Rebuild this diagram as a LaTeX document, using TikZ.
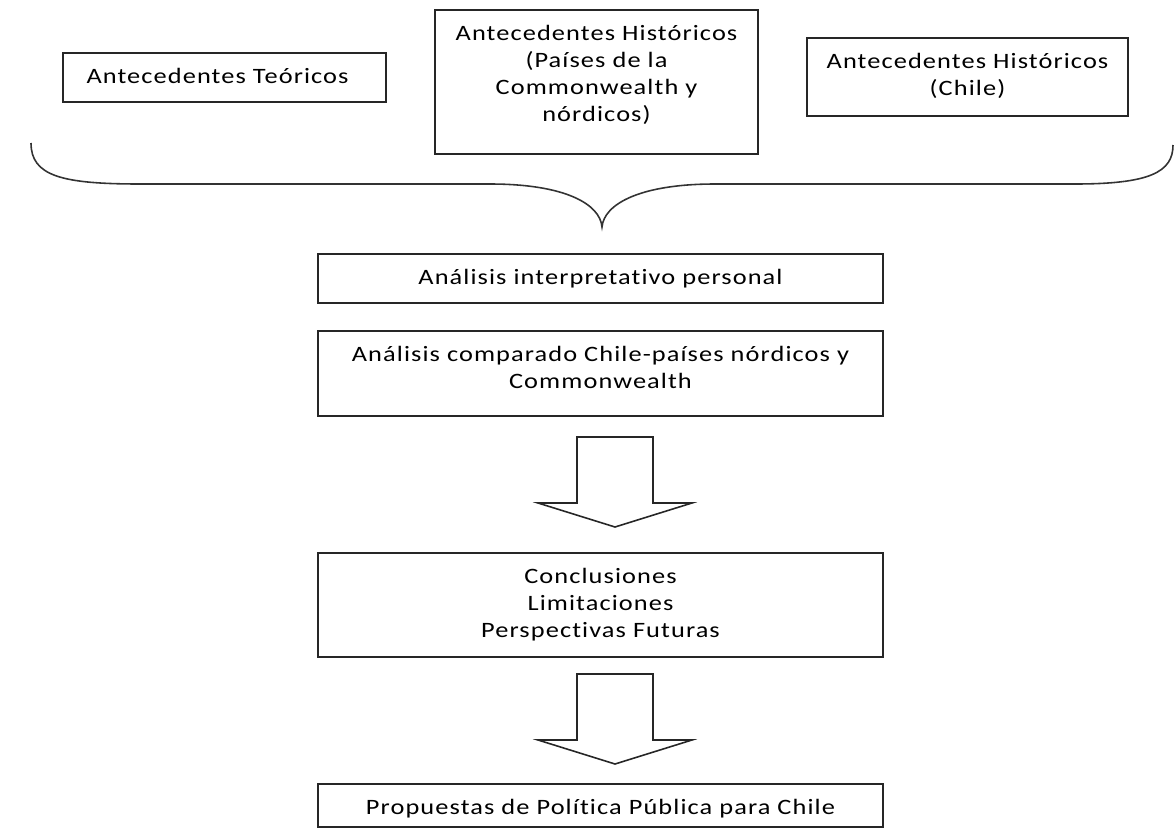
\documentclass[tikz,border=0pt]{standalone}
\usepackage{fontspec}
\setmainfont{Carlito}[FakeStretch=1.2, LetterSpace=5, Ligatures=NoCommon]

% text of a box, set from the top
\newcommand{\boxtext}[3]{\parbox[c][#2][t]{#1}{\centering\rule{0pt}{0.6cm}#3}}

\begin{document}
\begin{tikzpicture}[x=0.02cm, y=-0.02cm,
  box/.style={draw=black!85, line width=0.9pt, inner sep=0pt,
              font=\fontsize{12.5}{15.4}\selectfont},
  blockarrow/.pic={
    \draw[black!85, line width=0.9pt] (-38,0) -- (38,0) -- (38,66) -- (77,66)
      -- (0,90) -- (-77,66) -- (-38,66) -- cycle;}]
  \useasboundingbox (0,0) rectangle (1176,832);

  % sources
  \node[box] (teor) at (224.5,77.5) {\boxtext{6.46cm}{0.98cm}{Antecedentes Teóricos\hspace*{0.28cm}}};
  \node[box] (hcom) at (596.5,82) {\boxtext{6.46cm}{2.88cm}{Antecedentes Históricos\\(Países de la\\Commonwealth y\\nórdicos)}};
  \node[box] (hchi) at (967.5,77) {\boxtext{6.42cm}{1.56cm}{Antecedentes Históricos\\(Chile)}};

  % brace
  \draw[black!80, line width=0.9pt] (31,143) .. controls (31,176) and (62,184) .. (140,184)
    -- (490,184) .. controls (565,184) and (600,204) .. (602,227)
    .. controls (604,204) and (640,184) .. (715,184)
    -- (1075,184) .. controls (1150,184) and (1173,172) .. (1173,145);

  % analysis
  \node[box] (anal) at (600.5,278.5) {\boxtext{11.3cm}{0.98cm}{Análisis interpretativo personal}};
  \node[box] (comp) at (600.5,373.5) {\boxtext{11.3cm}{1.70cm}{Análisis comparado Chile-países nórdicos y\\Commonwealth}};
  \pic (arr1) at (615,437) {blockarrow};

  \node[box] (conc) at (600.5,605) {\boxtext{11.3cm}{2.08cm}{Conclusiones\\Limitaciones\\Perspectivas Futuras}};
  \pic (arr2) at (615,674) {blockarrow};

  \node[box] (prop) at (600.5,805.5) {\boxtext{11.3cm}{0.86cm}{Propuestas de Política Pública para Chile}};
\end{tikzpicture}
\end{document}
